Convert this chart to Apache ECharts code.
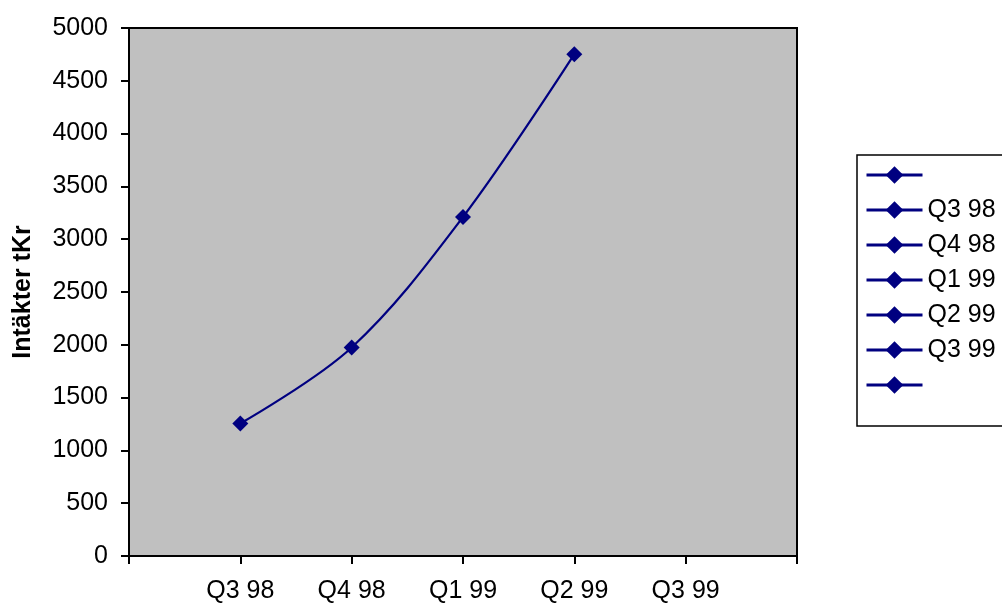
<!DOCTYPE html>
<html>
<head>
<meta charset="utf-8">
<script src="https://cdn.jsdelivr.net/npm/echarts@6/dist/echarts.min.js"></script>
<style>
html,body{margin:0;padding:0;background:#fff;}
#c{width:1002px;height:606px;}
</style>
</head>
<body>
<div id="c"></div>
<script>
var categories = ['', 'Q3 98', 'Q4 98', 'Q1 99', 'Q2 99', 'Q3 99', ''];
var revenue = [null, 1255, 1975, 3210, 4752, null, null];
var legendNames = [' ', 'Q3 98', 'Q4 98', 'Q1 99', 'Q2 99', 'Q3 99', '  '];
var yTicks = { min: 0, max: 5000, interval: 500 };
var yAxisTitle = 'Intäkter tKr';

var font = 'Liberation Sans, Arial, sans-serif';
var navy = '#000080';

var series = legendNames.map(function (n, i) {
  return {
    name: n,
    type: 'line',
    data: i === 0 ? revenue : [],
    smooth: 0.35,
    symbol: 'diamond',
    symbolSize: 16,
    showSymbol: true,
    connectNulls: false,
    lineStyle: { color: navy, width: 2.2 },
    itemStyle: { color: navy },
    emphasis: { disabled: true },
    animation: false
  };
});

var chart = echarts.init(document.getElementById('c'), null, { renderer: 'canvas' });
chart.setOption({
  animation: false,
  backgroundColor: '#ffffff',
  textStyle: { fontFamily: font, color: '#000' },
  grid: {
    left: 129, right: 205, top: 28, bottom: 50,
    show: true, backgroundColor: '#C0C0C0', borderColor: '#000', borderWidth: 2,
    containLabel: false
  },
  legend: {
    orient: 'vertical',
    left: 857, top: 155,
    data: legendNames,
    itemWidth: 56, itemHeight: 22, itemGap: 7, itemTextGap: 4,
    padding: [6, 60, 27, 8],
    borderColor: '#000', borderWidth: 1.5, backgroundColor: '#fff',
    selectedMode: false,
    lineStyle: { width: 3, color: navy },
    textStyle: { fontFamily: font, fontSize: 25, color: '#000', lineHeight: 28 }
  },
  xAxis: {
    type: 'category',
    data: categories,
    boundaryGap: false,
    axisLine: { lineStyle: { color: '#000', width: 2 } },
    axisTick: { show: true, inside: false, length: 8, lineStyle: { color: '#000', width: 2 }, alignWithLabel: true, interval: 0 },
    axisLabel: { interval: 0, margin: 23, fontSize: 25, color: '#000', fontFamily: font },
    splitLine: { show: false }
  },
  yAxis: {
    type: 'value',
    min: yTicks.min, max: yTicks.max, interval: yTicks.interval,
    name: yAxisTitle,
    nameLocation: 'middle',
    nameGap: 93,
    nameRotate: 90,
    nameTextStyle: { fontFamily: font, fontSize: 25, fontWeight: 'bold', color: '#000' },
    axisLine: { show: true, lineStyle: { color: '#000', width: 2 } },
    axisTick: { show: true, inside: false, length: 8, lineStyle: { color: '#000', width: 2 } },
    axisLabel: { margin: 21, fontSize: 25, color: '#000', fontFamily: font, formatter: function (v) { return String(v); } },
    splitLine: { show: false }
  },
  series: series
});
</script>
</body>
</html>
